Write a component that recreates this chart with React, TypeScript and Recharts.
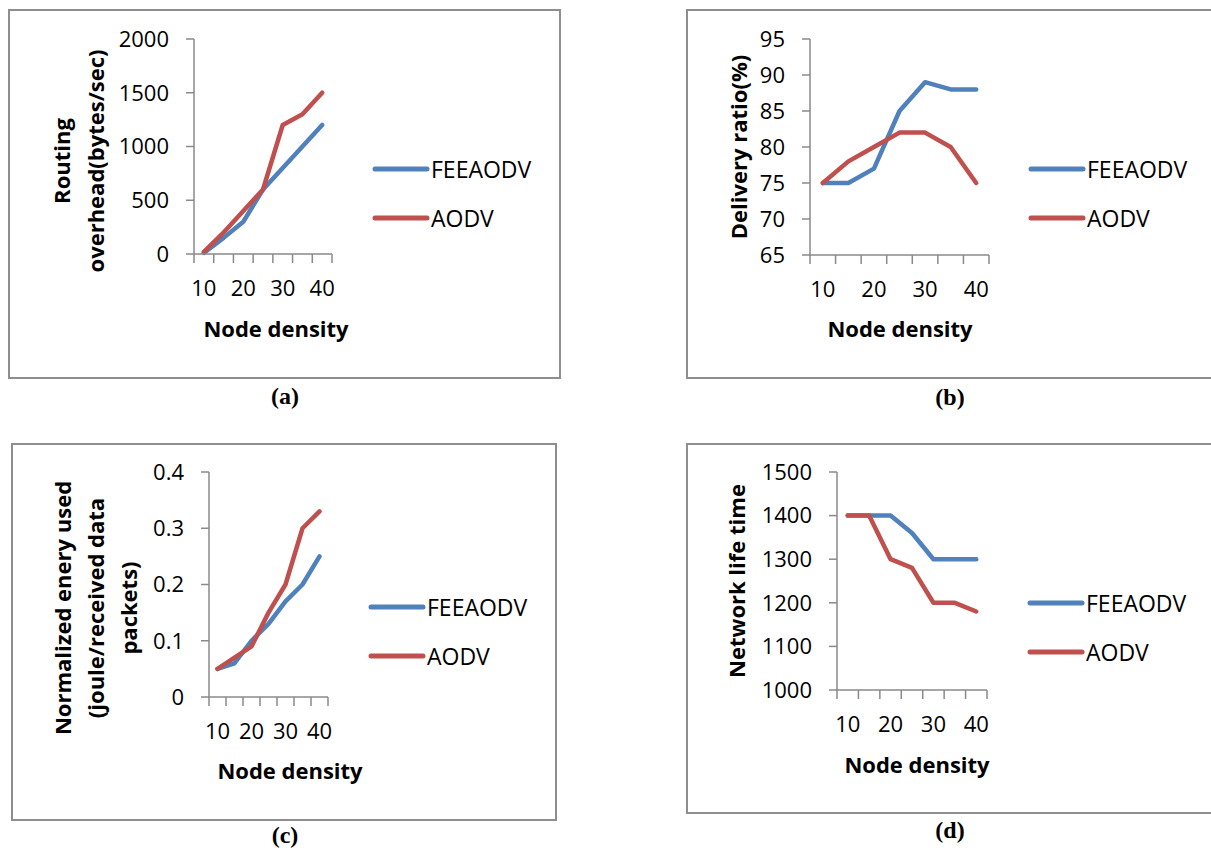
import { Legend, Line, LineChart, XAxis, YAxis } from "recharts"

// x categories (node density) and the labels Excel shows under the axis
const nodeDensity = [10, 15, 20, 25, 30, 35, 40]
const densityLabels = [10, 20, 30, 40]
const seriesNames = ["FEEAODV", "AODV"]

// (a) routing overhead
const overheadFeeaodv = [10, 150, 300, 600, 800, 1000, 1200]
const overheadAodv = [20, 200, 400, 600, 1200, 1300, 1500]
const overheadTicks = [0, 500, 1000, 1500, 2000]

// (b) delivery ratio
const deliveryFeeaodv = [75, 75, 77, 85, 89, 88, 88]
const deliveryAodv = [75, 78, 80, 82, 82, 80, 75]
const deliveryTicks = [65, 70, 75, 80, 85, 90, 95]

// (c) normalized energy
const energyFeeaodv = [0.05, 0.06, 0.1, 0.13, 0.17, 0.2, 0.25]
const energyAodv = [0.05, 0.07, 0.09, 0.15, 0.2, 0.3, 0.33]
const energyTicks = [0, 0.1, 0.2, 0.3, 0.4]

// (d) network life time
const lifeFeeaodv = [1400, 1400, 1400, 1360, 1300, 1300, 1300]
const lifeAodv = [1400, 1400, 1300, 1280, 1200, 1200, 1180]
const lifeTicks = [1000, 1100, 1200, 1300, 1400, 1500]

const BLUE = "#4F81BD"
const RED = "#C0504D"
const GRAY = "#8a8a8a"
const FONT = "'Open Sans', sans-serif"

const half = (nodeDensity[1] - nodeDensity[0]) / 2
const boundaries = [...nodeDensity.map((d) => d - half), nodeDensity[nodeDensity.length - 1] + half]
const xDomain = [boundaries[0], boundaries[boundaries.length - 1]]

const rows = (a: number[], b: number[]) =>
  nodeDensity.map((x, i) => ({ x, FEEAODV: a[i], AODV: b[i] }))

type Box = { left: number; top: number; right: number; bottom: number }

type PanelProps = {
  box: Box
  plot: Box
  data: { x: number; FEEAODV: number; AODV: number }[]
  yTicks: number[]
  yTitle: string[]
  yTitleX: number
  yTitleY: number
  yTitleGap?: number
  xTitleX: number
  xTitleY: number
  legendX: number
  legendY: number
  caption: string
  captionX: number
  captionY: number
}

function renderLegend(props: any) {
  const items = [...(props.payload || [])].sort(
    (a: any, b: any) => seriesNames.indexOf(a.value) - seriesNames.indexOf(b.value)
  )
  return (
    <div>
      {items.map((item: any) => (
        <div key={item.value} style={{ display: "flex", alignItems: "center", height: 49 }}>
          <svg width={58} height={8}>
            <line x1={3} y1={4} x2={55} y2={4} stroke={item.color} strokeWidth={5} strokeLinecap="round" />
          </svg>
          <span style={{ fontFamily: FONT, fontSize: 23, color: "#000", marginLeft: 1 }}>{item.value}</span>
        </div>
      ))}
    </div>
  )
}

function Panel(p: PanelProps) {
  const { box, plot } = p
  const width = box.right - box.left
  const height = box.bottom - box.top
  const tickAxisH = 9
  const labelAxisH = 40
  const gap = p.yTitleGap ?? 34
  const tx = p.yTitleX - box.left
  const ty = p.yTitleY - box.top

  return (
    <>
      <div
        style={{
          position: "absolute",
          left: box.left,
          top: box.top,
          width,
          height,
          boxSizing: "border-box",
          border: "2px solid #8e8e8e",
        }}
      />
      <div style={{ position: "absolute", left: box.left, top: box.top }}>
        <LineChart
          width={width}
          height={height}
          data={p.data}
          margin={{
            top: plot.top - box.top,
            right: box.right - plot.right,
            left: 0,
            bottom: box.bottom - plot.bottom - tickAxisH - labelAxisH,
          }}
        >
          <XAxis
            xAxisId={0}
            dataKey="x"
            type="number"
            domain={xDomain}
            ticks={boundaries}
            tickSize={9}
            height={tickAxisH}
            tickFormatter={() => ""}
            axisLine={{ stroke: GRAY, strokeWidth: 1.5 }}
            tickLine={{ stroke: GRAY, strokeWidth: 1.5 }}
          />
          <XAxis
            xAxisId="lab"
            dataKey="x"
            type="number"
            domain={xDomain}
            ticks={densityLabels}
            axisLine={false}
            tickLine={false}
            tickSize={0}
            tickMargin={17}
            height={labelAxisH}
            tick={{ fill: "#000", fontSize: 22, fontFamily: FONT }}
            label={{
              content: () => (
                <text
                  x={p.xTitleX - box.left}
                  y={p.xTitleY - box.top}
                  textAnchor="middle"
                  fontFamily={FONT}
                  fontSize={22}
                  fontWeight="bold"
                  fill="#000"
                >
                  Node density
                </text>
              ),
            }}
          />
          <YAxis
            type="number"
            domain={[p.yTicks[0], p.yTicks[p.yTicks.length - 1]]}
            ticks={p.yTicks}
            width={plot.left - box.left}
            tickSize={8}
            tickMargin={17}
            axisLine={{ stroke: GRAY, strokeWidth: 1.5 }}
            tickLine={{ stroke: GRAY, strokeWidth: 1.5 }}
            tick={{ fill: "#000", fontSize: 22, fontFamily: FONT }}
            label={{
              content: () => (
                <text
                  x={tx}
                  y={ty}
                  transform={`rotate(-90, ${tx}, ${ty})`}
                  textAnchor="middle"
                  fontFamily={FONT}
                  fontSize={22}
                  fontWeight="bold"
                  fill="#000"
                >
                  {p.yTitle.map((line, i) => (
                    <tspan key={i} x={tx} dy={i === 0 ? 0 : gap}>
                      {line}
                    </tspan>
                  ))}
                </text>
              ),
            }}
          />
          <Legend
            layout="vertical"
            align="center"
            verticalAlign="middle"
            wrapperStyle={{ left: p.legendX - box.left, top: p.legendY - 24.5 - box.top, width: 200 }}
            content={renderLegend}
          />
          <Line
            type="linear"
            dataKey="FEEAODV"
            name="FEEAODV"
            stroke={BLUE}
            strokeWidth={4.5}
            strokeLinecap="round"
            strokeLinejoin="round"
            dot={false}
            activeDot={false}
            isAnimationActive={false}
          />
          <Line
            type="linear"
            dataKey="AODV"
            name="AODV"
            stroke={RED}
            strokeWidth={4.5}
            strokeLinecap="round"
            strokeLinejoin="round"
            dot={false}
            activeDot={false}
            isAnimationActive={false}
          />
        </LineChart>
      </div>
      <div
        style={{
          position: "absolute",
          left: p.captionX - 50,
          top: p.captionY - 14,
          width: 100,
          textAlign: "center",
          fontFamily: "'Liberation Serif', 'Times New Roman', serif",
          fontWeight: "bold",
          fontSize: 24,
          lineHeight: "24px",
          color: "#000",
        }}
      >
        {p.caption}
      </div>
    </>
  )
}

export default function App() {
  return (
    <div
      style={{
        position: "absolute",
        left: 0,
        top: 0,
        width: 1211,
        height: 851,
        overflow: "hidden",
        background: "#fff",
      }}
    >
      <Panel
        box={{ left: 8, top: 9, right: 561, bottom: 379 }}
        plot={{ left: 194, top: 39, right: 332, bottom: 254 }}
        data={rows(overheadFeeaodv, overheadAodv)}
        yTicks={overheadTicks}
        yTitle={["Routing", "overhead(bytes/sec)"]}
        yTitleX={70}
        yTitleY={161}
        yTitleGap={34}
        xTitleX={276}
        xTitleY={337}
        legendX={372}
        legendY={169}
        caption="(a)"
        captionX={285}
        captionY={398}
      />
      <Panel
        box={{ left: 686, top: 9, right: 1230, bottom: 379 }}
        plot={{ left: 810, top: 39, right: 989, bottom: 255 }}
        data={rows(deliveryFeeaodv, deliveryAodv)}
        yTicks={deliveryTicks}
        yTitle={["Delivery ratio(%)"]}
        yTitleX={747}
        yTitleY={147}
        xTitleX={900}
        xTitleY={337}
        legendX={1028}
        legendY={169}
        caption="(b)"
        captionX={950}
        captionY={399}
      />
      <Panel
        box={{ left: 11, top: 443, right: 557, bottom: 821 }}
        plot={{ left: 209, top: 472, right: 328, bottom: 697 }}
        data={rows(energyFeeaodv, energyAodv)}
        yTicks={energyTicks}
        yTitle={["Normalized enery used", "(joule/received data", "packets)"]}
        yTitleX={71}
        yTitleY={608}
        yTitleGap={33}
        xTitleX={290}
        xTitleY={779}
        legendX={368}
        legendY={607}
        caption="(c)"
        captionX={285}
        captionY={837}
      />
      <Panel
        box={{ left: 686, top: 443, right: 1230, bottom: 814 }}
        plot={{ left: 837, top: 472, right: 987, bottom: 690 }}
        data={rows(lifeFeeaodv, lifeAodv)}
        yTicks={lifeTicks}
        yTitle={["Network life time"]}
        yTitleX={745}
        yTitleY={581}
        xTitleX={917}
        xTitleY={773}
        legendX={1027}
        legendY={603}
        caption="(d)"
        captionX={950}
        captionY={832}
      />
    </div>
  )
}
